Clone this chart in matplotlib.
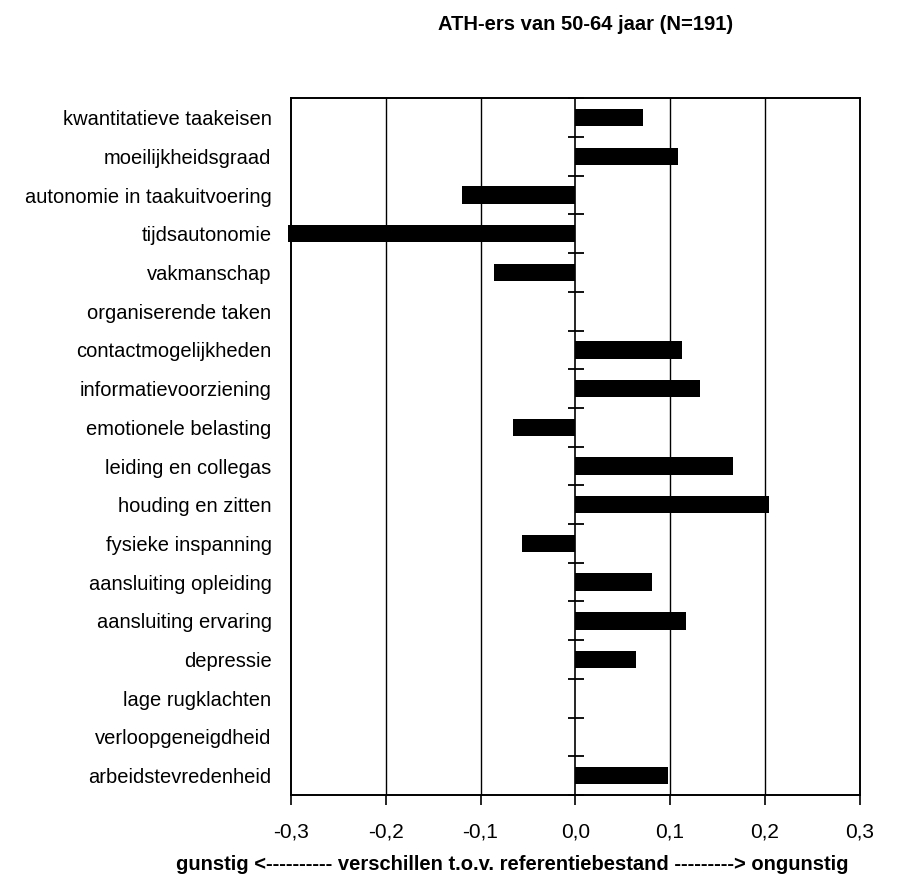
import matplotlib
matplotlib.use('Agg')
import matplotlib.pyplot as plt
import numpy as np

# ============ Data ============
categories = [
    'kwantitatieve taakeisen', 'moeilijkheidsgraad', 'autonomie in taakuitvoering',
    'tijdsautonomie', 'vakmanschap', 'organiserende taken', 'contactmogelijkheden',
    'informatievoorziening', 'emotionele belasting', 'leiding en collegas',
    'houding en zitten', 'fysieke inspanning', 'aansluiting opleiding',
    'aansluiting ervaring', 'depressie', 'lage rugklachten',
    'verloopgeneigdheid', 'arbeidstevredenheid',
]
differences = [0.071, 0.108, -0.119, -0.303, -0.086, 0.0, 0.113, 0.132, -0.066,
               0.166, 0.205, -0.056, 0.081, 0.117, 0.064, 0.0, 0.0, 0.098]
x_ticks = [-0.3, -0.2, -0.1, 0.0, 0.1, 0.2, 0.3]
x_tick_labels = ['-0,3', '-0,2', '-0,1', '0,0', '0,1', '0,2', '0,3']

title = 'ATH-ers van 50-64 jaar (N=191)'
xlabel = 'gunstig <---------- verschillen t.o.v. referentiebestand ---------> ongunstig'

# ============ Font ============
plt.rcParams['font.family'] = ['Liberation Sans', 'DejaVu Sans']

fig = plt.figure(figsize=(9.05, 8.82), dpi=100)
ax = fig.add_axes([291 / 905, 1 - 795 / 882, (859.5 - 291) / 905, (795 - 98.3) / 882])

y = np.arange(len(categories))
ax.barh(y, differences, height=0.45, color='black', zorder=3, clip_on=False)

ax.set_xlim(-0.3, 0.3)
ax.set_ylim(len(categories) - 0.5, -0.5)

# vertical gridlines
for xv in [-0.2, -0.1, 0.1, 0.2]:
    ax.axvline(xv, color='black', lw=1.0, zorder=1)
ax.axvline(0, color='black', lw=1.2, zorder=4)

# category separators on the zero axis
bounds = np.arange(len(categories) + 1) - 0.5
ax.plot(np.full_like(bounds, 0.001), bounds, ls='none', marker='_', markersize=11,
        markeredgewidth=1.3, color='black', zorder=5, clip_on=False)

ax.set_yticks(y)
ax.set_yticklabels(categories, fontsize=14.5)
ax.tick_params(axis='y', length=0, pad=14)
ax.set_xticks(x_ticks)
ax.set_xticklabels(x_tick_labels, fontsize=15)
ax.tick_params(axis='x', direction='out', length=7, width=1.2, pad=13)

for s in ax.spines.values():
    s.set_linewidth(1.4)

fig.text(586 / 905, 1 - 25 / 882, title, ha='center', va='center',
         fontsize=14.5, fontweight='bold')
fig.text(512 / 905, 1 - 864 / 882, xlabel, ha='center', va='center',
         fontsize=14.5, fontweight='bold')

fig.savefig('out.png', dpi=100)
